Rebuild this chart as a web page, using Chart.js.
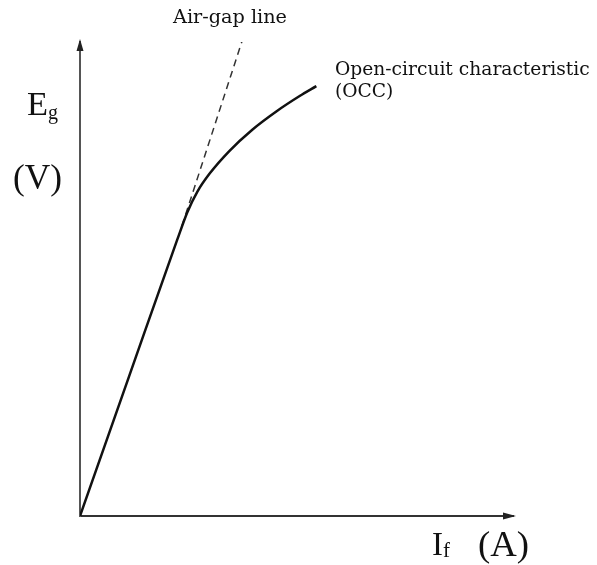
<!DOCTYPE html>
<html>
<head>
<meta charset="utf-8">
<script src="https://cdn.jsdelivr.net/npm/chart.js@4.4.0/dist/chart.umd.min.js"></script>
<style>
html,body{margin:0;padding:0;background:#fff;}
#wrap{width:597px;height:565px;}
</style>
</head>
<body>
<div id="wrap"><canvas id="c" width="597" height="565"></canvas></div>
<script>
// Field current If (arbitrary units) and generated voltage Eg (arbitrary units)
const occIf = [0, 1.09, 2.16, 2.38, 2.60, 2.87, 3.31, 3.82, 4.36, 4.87, 5.24];
const occEg = [0, 2.95, 5.84, 6.41, 6.84, 7.22, 7.70, 8.15, 8.54, 8.86, 9.07];
const airIf = [2.26, 3.60];
const airEg = [6.12, 10.04];
const labels = {
  airGap: "Air-gap line",
  occ1: "Open-circuit characteristic",
  occ2: "(OCC)",
  yMain: "E", ySub: "g", yUnit: "(V)",
  xMain: "I", xSub: "f", xUnit: "(A)"
};

const occData = occIf.map((x, i) => ({x, y: occEg[i]}));
const airData = airIf.map((x, i) => ({x, y: airEg[i]}));

function fit(ctx, text, x0, x1, base, fam) {
  ctx.font = '20px ' + fam;
  const w = ctx.measureText(text).width;
  const size = 20 * (x1 - x0) / w;
  ctx.font = size.toFixed(2) + 'px ' + fam;
  ctx.fillText(text, x0, base);
  return size;
}

const decor = {
  id: 'decor',
  afterDraw(chart) {
    const {ctx, chartArea: a} = chart;
    ctx.save();
    ctx.fillStyle = '#222';
    // arrowheads
    ctx.beginPath();
    ctx.moveTo(a.left, a.top - 3);
    ctx.lineTo(a.left - 3.5, a.top + 9);
    ctx.lineTo(a.left + 3.5, a.top + 9);
    ctx.closePath(); ctx.fill();
    ctx.beginPath();
    ctx.moveTo(a.right + 3, a.bottom);
    ctx.lineTo(a.right - 10, a.bottom - 3.5);
    ctx.lineTo(a.right - 10, a.bottom + 3.5);
    ctx.closePath(); ctx.fill();

    ctx.fillStyle = '#111';
    ctx.textBaseline = 'alphabetic';
    ctx.textAlign = 'left';
    const serif = '"Liberation Serif", serif';
    const wide = '"DejaVu Serif", serif';
    // y axis title
    fit(ctx, labels.yMain, 27, 48, 115, serif);
    fit(ctx, labels.ySub, 48, 58, 119, serif);
    fit(ctx, labels.yUnit, 13, 62, 189, serif);
    // x axis title
    fit(ctx, labels.xMain, 432, 443, 555, serif);
    fit(ctx, labels.xSub, 443, 450, 557, serif);
    fit(ctx, labels.xUnit, 478, 529, 556, serif);
    // annotations
    fit(ctx, labels.airGap, 173, 287, 23, wide);
    const s = fit(ctx, labels.occ1, 335, 590, 75, wide);
    ctx.font = s.toFixed(2) + 'px ' + wide;
    ctx.fillText(labels.occ2, 335, 97);
    ctx.restore();
  }
};

new Chart(document.getElementById('c'), {
  type: 'scatter',
  data: {
    datasets: [
      {data: occData, showLine: true, borderColor: '#111', borderWidth: 2.5,
       pointRadius: 0, cubicInterpolationMode: 'monotone', fill: false},
      {data: airData, showLine: true, borderColor: '#333', borderWidth: 1.5,
       borderDash: [7, 5], pointRadius: 0, fill: false}
    ]
  },
  options: {
    responsive: false,
    animation: false,
    devicePixelRatio: 1,
    layout: {padding: {left: 80, right: 84, top: 42, bottom: 49}},
    plugins: {legend: {display: false}, tooltip: {enabled: false}},
    scales: {
      x: {type: 'linear', min: 0, max: 9.6,
          ticks: {display: false}, grid: {display: false, drawTicks: false},
          border: {display: true, color: '#333', width: 2}},
      y: {type: 'linear', min: 0, max: 10,
          ticks: {display: false}, grid: {display: false, drawTicks: false},
          border: {display: true, color: '#555', width: 2}}
    }
  },
  plugins: [decor]
});
</script>
</body>
</html>
